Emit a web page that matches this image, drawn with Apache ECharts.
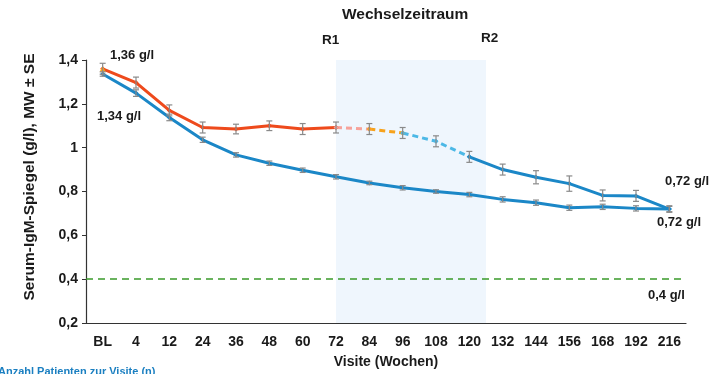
<!DOCTYPE html>
<html>
<head>
<meta charset="utf-8">
<script src="https://cdn.jsdelivr.net/npm/echarts@6/dist/echarts.min.js"></script>
<style>
  html, body { margin: 0; padding: 0; background: #fff; }
  #chart { width: 712px; height: 374px; }
</style>
</head>
<body>
<div id="chart"></div>
<script>
// Visiten (Wochen)
const visits = ['BL', '4', '12', '24', '36', '48', '60', '72', '84', '96', '108', '120', '132', '144', '156', '168', '192', '216'];

// Wechsel-Gruppe (orange -> blau nach Umstellung)
const switchMean = [1.36, 1.297, 1.17, 1.092, 1.085, 1.10, 1.085, 1.092, 1.085, 1.067, 1.029, 0.958, 0.90, 0.865, 0.836, 0.782, 0.78, 0.72];
const switchSE   = [0.025, 0.025, 0.025, 0.025, 0.022, 0.022, 0.025, 0.025, 0.025, 0.025, 0.025, 0.025, 0.025, 0.03, 0.035, 0.025, 0.025, 0.015];

// durchgehende Gruppe (blau)
const contMean = [1.336, 1.249, 1.138, 1.036, 0.967, 0.929, 0.897, 0.867, 0.839, 0.817, 0.80, 0.786, 0.764, 0.749, 0.726, 0.73, 0.723, 0.72];
const contSE   = [0.01, 0.015, 0.015, 0.012, 0.01, 0.01, 0.01, 0.01, 0.008, 0.01, 0.008, 0.01, 0.012, 0.012, 0.012, 0.012, 0.012, 0.012];

const yTicks = { min: 0.2, max: 1.4, step: 0.2 };
const threshold = 0.4;
const switchWindow = [7, 11.5]; // 72 bis Grenze 120/132

// Abschnitte der Wechsel-Linie: [von, bis, Farbe, gestrichelt]
const segments = [
  [0, 7, '#ee4a1c', false],
  [7, 8, '#f6a29a', true],
  [8, 9, '#f7a21b', true],
  [9, 11, '#4cb8e6', true],
  [11, 17, '#1b87c7', false]
];

function segData(from, to) {
  return switchMean.map((v, i) => (i >= from && i <= to ? v : '-'));
}

function errData(mean, se) {
  return mean.map((m, i) => [i, m - se[i], m + se[i]]);
}

function renderErr(params, api) {
  const x = api.value(0);
  const lo = api.coord([x, api.value(1)]);
  const hi = api.coord([x, api.value(2)]);
  const w = 3;
  const st = { stroke: '#8a8a8a', lineWidth: 1.2 };
  return {
    type: 'group',
    children: [
      { type: 'line', shape: { x1: lo[0], y1: lo[1], x2: hi[0], y2: hi[1] }, style: st },
      { type: 'line', shape: { x1: lo[0] - w, y1: lo[1], x2: lo[0] + w, y2: lo[1] }, style: st },
      { type: 'line', shape: { x1: hi[0] - w, y1: hi[1], x2: hi[0] + w, y2: hi[1] }, style: st }
    ]
  };
}

const boldTxt = { fontFamily: 'Liberation Sans', fontWeight: 'bold', fill: '#1a1a1a' };

const series = [
  {
    type: 'custom',
    xAxisIndex: 1,
    data: [],
    silent: true,
    markArea: {
      silent: true,
      itemStyle: { color: '#eff6fd' },
      data: [[{ xAxis: switchWindow[0] }, { xAxis: switchWindow[1] }]]
    },
    markLine: {
      silent: true,
      symbol: 'none',
      label: { show: false },
      lineStyle: { color: '#3a9a2a', type: [7, 5], width: 1.6 },
      data: [{ yAxis: threshold }]
    },
    renderItem: () => null
  },
  {
    type: 'line',
    data: contMean,
    symbol: 'diamond',
    symbolSize: 5,
    lineStyle: { color: '#1b87c7', width: 3 },
    itemStyle: { color: '#1b87c7' },
    z: 3
  }
];

segments.forEach(([from, to, color, dashed]) => {
  series.push({
    type: 'line',
    data: segData(from, to),
    symbol: 'diamond',
    symbolSize: 5,
    showSymbol: true,
    lineStyle: { color: color, width: 3, type: dashed ? [6, 4] : 'solid' },
    itemStyle: { color: color },
    z: 3
  });
});

// BL-Punkt der Wechselgruppe
series.push({
  type: 'line',
  data: switchMean.map((v, i) => (i === 0 ? v : '-')),
  symbol: 'triangle',
  symbolSize: 6,
  itemStyle: { color: '#f7a21b' },
  z: 4
});

series.push({ type: 'custom', data: errData(switchMean, switchSE), renderItem: renderErr, z: 5, silent: true });
series.push({ type: 'custom', data: errData(contMean, contSE), renderItem: renderErr, z: 5, silent: true });

const option = {
  animation: false,
  grid: { left: 86, right: 26, top: 60, bottom: 50 },
  xAxis: [
    {
      type: 'category',
      data: visits,
      boundaryGap: true,
      name: 'Visite (Wochen)',
      nameLocation: 'middle',
      nameGap: 32,
      nameTextStyle: { fontFamily: 'Liberation Sans', fontWeight: 'bold', fontSize: 14, color: '#1a1a1a' },
      axisLine: { lineStyle: { color: '#333', width: 1.2 } },
      axisTick: { lineStyle: { color: '#333' }, length: 4 },
      axisLabel: { fontFamily: 'Liberation Sans', fontWeight: 'bold', fontSize: 14, color: '#1a1a1a', margin: 12, interval: 0 }
    },
    { type: 'value', min: -0.5, max: 17.5, show: false }
  ],
  yAxis: {
    type: 'value',
    min: yTicks.min,
    max: yTicks.max,
    interval: yTicks.step,
    axisLine: { show: true, onZero: false, lineStyle: { color: '#333', width: 1.2 } },
    axisTick: { show: true, lineStyle: { color: '#333' }, length: 4 },
    splitLine: { show: false },
    axisLabel: {
      fontFamily: 'Liberation Sans', fontWeight: 'bold', fontSize: 14, color: '#1a1a1a',
      formatter: v => String(Math.round(v * 10) / 10).replace('.', ',')
    }
  },
  graphic: [
    { type: 'text', x: 30, y: 177, rotation: Math.PI / 2, style: Object.assign({ text: 'Serum-IgM-Spiegel (g/l), MW ± SE', fontSize: 15.5, textAlign: 'center', textVerticalAlign: 'middle' }, boldTxt) },
    { type: 'text', left: 342, top: 7, style: Object.assign({ text: 'Wechselzeitraum', fontSize: 15.5 }, boldTxt) },
    { type: 'text', left: 322, top: 33, style: Object.assign({ text: 'R1', fontSize: 13.5 }, boldTxt) },
    { type: 'text', left: 481, top: 31, style: Object.assign({ text: 'R2', fontSize: 13.5 }, boldTxt) },
    { type: 'text', left: 110, top: 49, style: Object.assign({ text: '1,36 g/l', fontSize: 13 }, boldTxt) },
    { type: 'text', left: 97, top: 110, style: Object.assign({ text: '1,34 g/l', fontSize: 13 }, boldTxt) },
    { type: 'text', left: 665, top: 175, style: Object.assign({ text: '0,72 g/l', fontSize: 13 }, boldTxt) },
    { type: 'text', left: 657, top: 216, style: Object.assign({ text: '0,72 g/l', fontSize: 13 }, boldTxt) },
    { type: 'text', left: 648, top: 289, style: Object.assign({ text: '0,4 g/l', fontSize: 13 }, boldTxt) },
    { type: 'text', left: -2, top: 366, style: { text: 'Anzahl Patienten zur Visite (n)', fontFamily: 'Liberation Sans', fontWeight: 'bold', fontSize: 11, fill: '#1a7fc1' } }
  ],
  series: series
};

echarts.init(document.getElementById('chart')).setOption(option);
</script>
</body>
</html>
